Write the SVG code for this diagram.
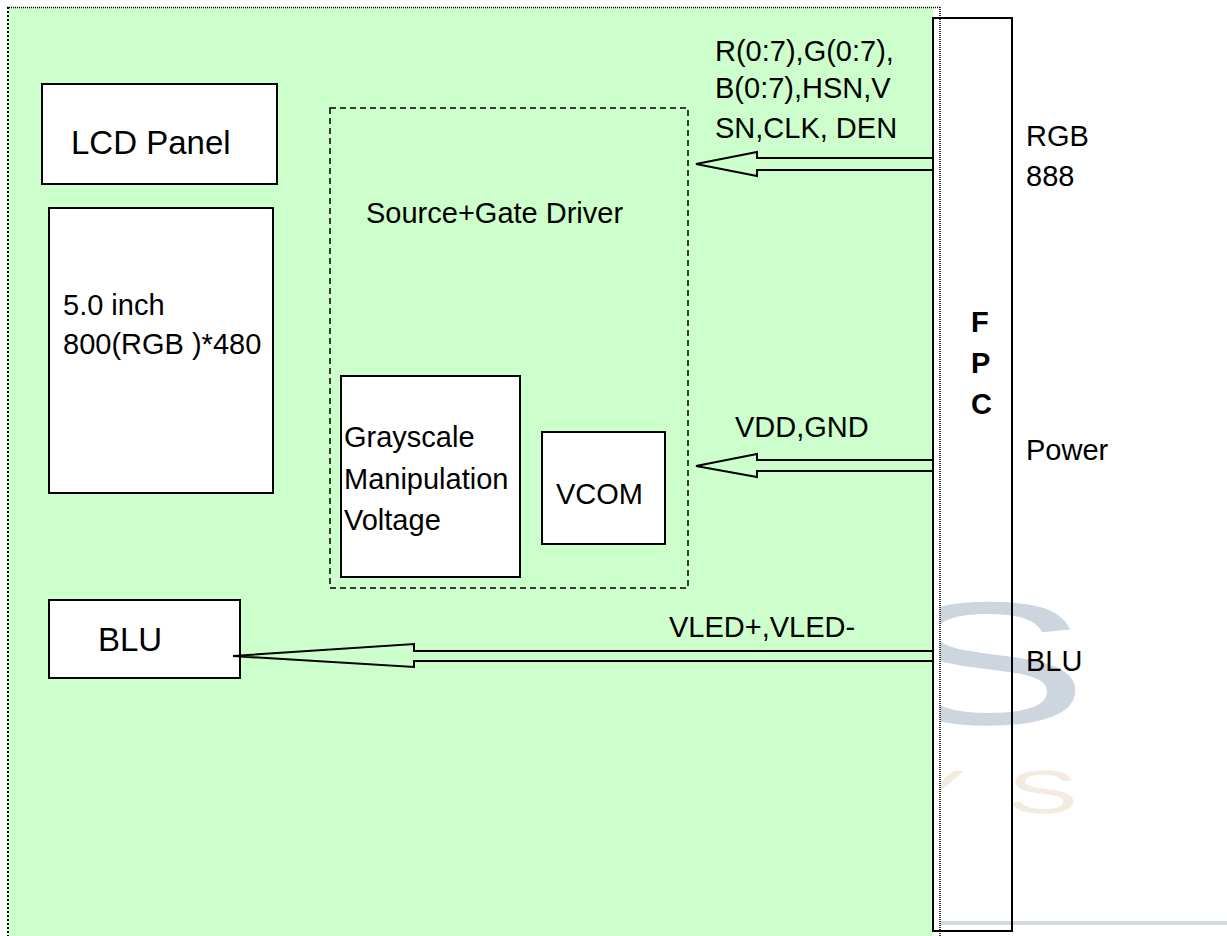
<svg xmlns="http://www.w3.org/2000/svg" width="1227" height="936" viewBox="0 0 1227 936">
<defs>
<style>
.t{font-family:"Liberation Sans",Arial,sans-serif;font-size:29px;fill:#000}
.big{font-size:33px}
.b{font-weight:bold}
.box{fill:#fff;stroke:#000;stroke-width:2}
.arrow{fill:none;stroke:#000;stroke-width:2;stroke-linejoin:miter}
.wm{font-family:"Liberation Sans",Arial,sans-serif}
.dot{fill:none;stroke:#000}
</style>
<clipPath id="wmclip"><rect x="940" y="0" width="287" height="936"/></clipPath>
</defs>
<rect width="1227" height="936" fill="#fff"/>
<g id="watermark" clip-path="url(#wmclip)">
<text class="wm" transform="translate(885,724) scale(1.75,1)" font-size="175" fill="#cdd5df">S</text>
<text class="wm" transform="translate(1007,813) scale(1.75,1)" font-size="61" fill="#f3ebdf">S</text>
<text class="wm" transform="translate(895,813) scale(1.75,1)" font-size="61" fill="#f3ebdf">Y</text>
<rect x="940" y="921" width="287" height="4" fill="#d3d9e1"/>
</g>
<g id="module">
<rect x="7" y="7" width="926" height="940" fill="#ccffcc"/>
</g>
<g id="fpc">
<rect x="933" y="18" width="79" height="913" fill="none" stroke="#000" stroke-width="2"/>
<text class="t b" x="971" y="332">F</text>
<text class="t b" x="971" y="373">P</text>
<text class="t b" x="971" y="414">C</text>
</g>
<g id="module-border">
<path class="dot" d="M7,7.5 H940" stroke-width="1.5" stroke-dasharray="1 1"/>
<path class="dot" d="M8,7 V936" stroke-width="2" stroke-dasharray="2 2"/>
<path class="dot" d="M940,7 V936" stroke-width="1.5" stroke-dasharray="1 1"/>
</g>
<g id="lcd-panel">
<rect class="box" x="42" y="84" width="235" height="100"/>
<text class="t big" x="71" y="154">LCD Panel</text>
</g>
<g id="panel-size">
<rect class="box" x="49" y="208" width="224" height="285"/>
<text class="t" x="63" y="315">5.0 inch</text>
<text class="t" x="63" y="354">800(RGB )*480</text>
</g>
<g id="driver">
<rect x="330" y="108" width="358" height="480" fill="none" stroke="#000" stroke-width="1.5" stroke-dasharray="6 4"/>
<text class="t" x="366" y="223">Source+Gate Driver</text>
</g>
<g id="grayscale">
<rect class="box" x="341" y="376" width="179" height="201"/>
<text class="t" x="344" y="447">Grayscale</text>
<text class="t" x="344" y="489">Manipulation</text>
<text class="t" x="344" y="530">Voltage</text>
</g>
<g id="vcom">
<rect class="box" x="542" y="432" width="123" height="112"/>
<text class="t" x="556" y="504">VCOM</text>
</g>
<g id="blu">
<rect class="box" x="49" y="600" width="191" height="78"/>
<text class="t big" x="98" y="651">BLU</text>
</g>
<g id="connectors">
<polygon class="arrow" points="696,164 757,152 757,158 933,158 933,170 757,170 757,176"/>
<polygon class="arrow" points="696,466 757,454 757,460 933,460 933,471 757,471 757,477"/>
<polygon class="arrow" points="233,656 414,644 414,651 933,651 933,661 414,661 414,667"/>
<text class="t" x="715" y="61">R(0:7),G(0:7),</text>
<text class="t" x="715" y="98">B(0:7),HSN,V</text>
<text class="t" x="715" y="138">SN,CLK, DEN</text>
<text class="t" x="735" y="437">VDD,GND</text>
<text class="t" x="669" y="637">VLED+,VLED-</text>
</g>
<g id="fpc-labels">
<text class="t" x="1026" y="146">RGB</text>
<text class="t" x="1026" y="186">888</text>
<text class="t" x="1026" y="460">Power</text>
<text class="t" x="1026" y="671">BLU</text>
</g>
</svg>
